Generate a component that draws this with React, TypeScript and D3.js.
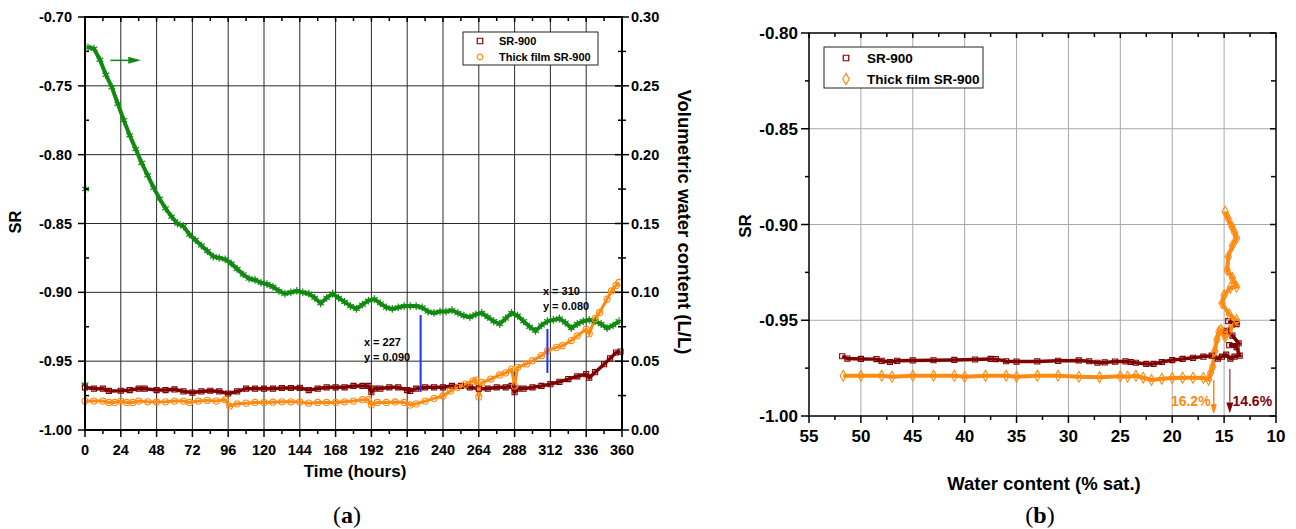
import React from 'react';
import * as d3 from 'd3';

const W = 1296;
const H = 529;
const SANS = '"Liberation Sans", Arial, Helvetica, sans-serif';
const SERIF = '"Liberation Serif", "Times New Roman", serif';

const MAROON = '#7f0000';
const ORANGE = '#ff8a12';
const GREEN = '#128a12';
const BLUE = '#2233ee';

// ---- panel (a): SR and water content vs time ----
const timeTicks = [0, 24, 48, 72, 96, 120, 144, 168, 192, 216, 240, 264, 288, 312, 336, 360];
const srTicksA = [-1.0, -0.95, -0.9, -0.85, -0.8, -0.75, -0.7];
const vwcTicks = [0, 0.05, 0.1, 0.15, 0.2, 0.25, 0.3];

const vwcTime = [2, 6, 10, 14, 18, 22, 26, 30, 34, 38, 42, 46, 50, 54, 58, 62, 66, 70, 74, 78, 82, 86, 90, 94, 98,
  102, 106, 110, 114, 118, 122, 126, 130, 134, 138, 142, 146, 150, 154, 158, 162, 166, 170, 174, 178, 182, 186, 190,
  194, 198, 202, 206, 210, 214, 218, 222, 226, 230, 234, 238, 242, 246, 250, 254, 258, 262, 266, 270, 274, 278, 282,
  286, 290, 294, 298, 302, 306, 310, 314, 318, 322, 326, 330, 334, 338, 342, 346, 350, 354, 358];
const vwcValue = [0.278, 0.277, 0.269, 0.258, 0.249, 0.237, 0.225, 0.214, 0.204, 0.194, 0.185, 0.176, 0.168, 0.161,
  0.155, 0.150, 0.148, 0.142, 0.138, 0.134, 0.130, 0.126, 0.125, 0.124, 0.121, 0.117, 0.113, 0.110, 0.109, 0.107,
  0.106, 0.104, 0.101, 0.099, 0.100, 0.101, 0.100, 0.099, 0.096, 0.092, 0.096, 0.099, 0.096, 0.093, 0.090, 0.088,
  0.091, 0.094, 0.095, 0.092, 0.089, 0.088, 0.089, 0.090, 0.090, 0.090, 0.089, 0.086, 0.085, 0.086, 0.086, 0.087,
  0.085, 0.083, 0.082, 0.084, 0.085, 0.082, 0.079, 0.077, 0.081, 0.085, 0.083, 0.079, 0.075, 0.072, 0.076, 0.079,
  0.080, 0.081, 0.078, 0.074, 0.077, 0.079, 0.080, 0.079, 0.077, 0.074, 0.076, 0.079];
const vwcStrayTime = [0.5, 0];
const vwcStrayValue = [0.175, 0.033];

const sr900Time = [0, 6, 12, 16, 24, 30, 36, 40, 48, 54, 60, 66, 72, 78, 84, 90, 96, 102, 108, 114, 120, 126, 132,
  138, 144, 150, 156, 162, 168, 174, 180, 186, 190, 192, 194, 198, 204, 210, 216, 218, 222, 228, 234, 240, 246, 252,
  258, 264, 270, 276, 282, 286, 288, 290, 294, 300, 306, 312, 318, 324, 330, 336, 338, 342, 348, 352, 356, 359];
const sr900A = [-0.969, -0.970, -0.970, -0.9716, -0.9715, -0.971, -0.970, -0.970, -0.971, -0.971, -0.9705, -0.972,
  -0.9728, -0.972, -0.9715, -0.972, -0.9735, -0.972, -0.970, -0.970, -0.970, -0.970, -0.9695, -0.9695, -0.9694,
  -0.971, -0.970, -0.969, -0.969, -0.969, -0.968, -0.968, -0.968, -0.9725, -0.970, -0.970, -0.969, -0.969, -0.971,
  -0.9716, -0.970, -0.969, -0.969, -0.969, -0.968, -0.968, -0.969, -0.970, -0.970, -0.969, -0.969, -0.968, -0.9725,
  -0.970, -0.970, -0.969, -0.968, -0.9667, -0.965, -0.963, -0.961, -0.9594, -0.962, -0.958, -0.9522, -0.948,
  -0.9437, -0.943];

const thickTime = [0, 6, 12, 16, 20, 24, 28, 32, 36, 42, 48, 54, 60, 66, 70, 76, 82, 88, 94, 97, 102, 108, 114, 120,
  126, 132, 138, 144, 150, 156, 162, 168, 174, 180, 186, 190, 192, 196, 202, 208, 214, 218, 222, 228, 234, 240, 245,
  250, 255, 260, 262, 264, 266, 272, 278, 282, 286, 288, 290, 296, 300, 306, 310, 316, 320, 326, 330, 336, 338, 342,
  345, 350, 353, 356, 358];
const thickA = [-0.979, -0.979, -0.979, -0.980, -0.980, -0.979, -0.980, -0.980, -0.979, -0.9795, -0.9796, -0.9795,
  -0.979, -0.979, -0.980, -0.979, -0.9785, -0.979, -0.978, -0.9826, -0.981, -0.9805, -0.980, -0.980, -0.9798,
  -0.9795, -0.9795, -0.9796, -0.9805, -0.980, -0.980, -0.980, -0.9795, -0.979, -0.978, -0.978, -0.9818, -0.980,
  -0.980, -0.9796, -0.980, -0.9818, -0.981, -0.979, -0.977, -0.9753, -0.9716, -0.969, -0.9667, -0.9645, -0.9638,
  -0.976, -0.9655, -0.963, -0.960, -0.9585, -0.9558, -0.968, -0.9545, -0.952, -0.9497, -0.946, -0.9425, -0.940,
  -0.9388, -0.935, -0.9316, -0.9267, -0.930, -0.919, -0.9146, -0.9049, -0.899, -0.895, -0.8928];

// ---- panel (b): SR vs water content ----
const wcTicks = [55, 50, 45, 40, 35, 30, 25, 20, 15, 10];
const srTicksB = [-1.0, -0.95, -0.9, -0.85, -0.8];

const wc900 = [51.8, 51.3, 50, 48.5, 48, 47.2, 46.5, 45, 43, 41, 39, 37.5, 37, 36, 35, 33, 31, 29, 28, 27.2, 26.5,
  25.5, 24.5, 24, 23.5, 22.5, 21.8, 21, 20, 19, 18, 17, 16.2, 15.6, 15.2, 14.8, 14.4, 14, 13.5, 13.8, 14.5, 13.6,
  14.2, 14.8, 13.8, 14.6];
const sr900B = [-0.9688, -0.970, -0.9702, -0.9703, -0.9712, -0.9718, -0.9712, -0.971, -0.9709, -0.9707, -0.9705,
  -0.9702, -0.9703, -0.9714, -0.9716, -0.9715, -0.9712, -0.971, -0.9714, -0.9722, -0.972, -0.9716, -0.9715, -0.9718,
  -0.9722, -0.9728, -0.9728, -0.9718, -0.9708, -0.9702, -0.9696, -0.969, -0.9685, -0.970, -0.969, -0.968, -0.970,
  -0.969, -0.9685, -0.964, -0.963, -0.962, -0.958, -0.9555, -0.952, -0.9505];

const wcThick = [51.7, 50, 48, 47, 45, 43, 41, 40, 38, 36, 35, 33, 31, 29, 27, 25, 24.3, 23.5, 22.8, 22, 21, 20, 19,
  18, 17, 16.5, 16.3, 16.1, 15.9, 15.7, 15.5, 15.3, 14.9, 14.5, 13.8, 14.5, 15.2, 15.0, 14.4, 13.8, 14.2, 14.7, 14.6,
  14.2, 13.8, 14.0, 14.25, 14.6, 14.9];
const srThickB = [-0.979, -0.979, -0.979, -0.9795, -0.979, -0.979, -0.979, -0.9795, -0.979, -0.979, -0.9795,
  -0.979, -0.979, -0.9795, -0.9797, -0.9792, -0.9795, -0.979, -0.980, -0.9812, -0.9805, -0.9802, -0.980, -0.980,
  -0.9802, -0.981, -0.9775, -0.9743, -0.966, -0.960, -0.956, -0.955, -0.9586, -0.9555, -0.950, -0.947, -0.9411,
  -0.937, -0.933, -0.9325, -0.928, -0.9237, -0.9168, -0.911, -0.9072, -0.904, -0.9011, -0.897, -0.8933];

const fmt2 = (v: number) => v.toFixed(2);

const App = () => {
  // scales
  const xA = d3.scaleLinear().domain([0, 360]).range([85, 622]);
  const yA = d3.scaleLinear().domain([-1, -0.7]).range([430, 17]);
  const yA2 = d3.scaleLinear().domain([0, 0.3]).range([430, 17]);
  const xB = d3.scaleLinear().domain([55, 10]).range([809, 1276]);
  const yB = d3.scaleLinear().domain([-1, -0.8]).range([416, 33]);

  const lineOf = (xs: number[], ys: number[], sx: any, sy: any) =>
    d3.line<number>().x((_, i) => sx(xs[i])).y((d) => sy(d))(ys) || '';

  const sq = d3.symbol().type(d3.symbolSquare).size(26)() || '';
  const circ = d3.symbol().type(d3.symbolCircle).size(30)() || '';
  const star = d3.symbol().type(d3.symbolAsterisk).size(42)() || '';
  const diam = d3.symbol().type(d3.symbolDiamond).size(34)() || '';
  const sqLeg = d3.symbol().type(d3.symbolSquare).size(30)() || '';
  const circLeg = d3.symbol().type(d3.symbolCircle).size(26)() || '';
  const diamLeg = d3.symbol().type(d3.symbolDiamond).size(36)() || '';

  const minorTime = d3.range(12, 360, 24);
  const minorSrA = d3.range(-0.975, -0.7, 0.05);
  const minorVwc = d3.range(0.025, 0.3, 0.05);
  const minorWc = d3.range(52.5, 10, -5);
  const minorSrB = d3.range(-0.975, -0.8, 0.05);

  const tickStyle = { stroke: '#000', strokeWidth: 1.5 };

  return (
    <svg width={W} height={H} style={{ position: 'absolute', left: 0, top: 0, background: '#fff' }}
      fontFamily={SANS} fontWeight="bold">
      {/* ===== panel (a) ===== */}
      <g>
        {timeTicks.slice(1, -1).map((t) => (
          <line key={'gx' + t} x1={xA(t)} x2={xA(t)} y1={17} y2={430} stroke="#2a2a2a" strokeWidth={1} />
        ))}
        {srTicksA.slice(1, -1).map((v) => (
          <line key={'gy' + v} x1={85} x2={622} y1={yA(v)} y2={yA(v)} stroke="#2a2a2a" strokeWidth={1} />
        ))}

        {/* series lines */}
        <path d={lineOf(vwcTime, vwcValue, xA, yA2)} fill="none" stroke={GREEN} strokeWidth={4} />
        <path d={lineOf(sr900Time, sr900A, xA, yA)} fill="none" stroke={MAROON} strokeWidth={3.5} />
        <path d={lineOf(thickTime, thickA, xA, yA)} fill="none" stroke={ORANGE} strokeWidth={3} />
        {vwcValue.map((v, i) => (
          <path key={'gm' + i} d={star} transform={`translate(${xA(vwcTime[i])},${yA2(v)})`} fill="none" stroke={GREEN} strokeWidth={1.2} />
        ))}
        {vwcStrayValue.map((v, i) => (
          <path key={'gs' + i} d={star} transform={`translate(${xA(vwcStrayTime[i])},${yA2(v)})`} fill="none" stroke={GREEN} strokeWidth={1.2} />
        ))}
        {sr900A.map((v, i) => (
          <path key={'rm' + i} d={sq} transform={`translate(${xA(sr900Time[i])},${yA(v)})`} fill="none" stroke={MAROON} strokeWidth={1.1} />
        ))}
        {thickA.map((v, i) => (
          <path key={'om' + i} d={circ} transform={`translate(${xA(thickTime[i])},${yA(v)})`} fill="none" stroke={ORANGE} strokeWidth={1.1} />
        ))}

        {/* cursor annotations */}
        <line x1={xA(225)} x2={xA(225)} y1={yA(-0.9165)} y2={yA(-0.9724)} stroke={BLUE} strokeWidth={2} />
        <line x1={xA(310)} x2={xA(310)} y1={yA(-0.9266)} y2={yA(-0.9586)} stroke={BLUE} strokeWidth={2} />
        <text x={xA(187)} y={yA(-0.9393)} fontSize={11}>x = 227</text>
        <text x={xA(187)} y={yA(-0.9500)} fontSize={11}>y = 0.090</text>
        <text x={xA(307)} y={yA(-0.9018)} fontSize={11}>x = 310</text>
        <text x={xA(307)} y={yA(-0.9127)} fontSize={11}>y = 0.080</text>

        {/* arrow pointing to right axis */}
        <line x1={xA(17)} x2={xA(30)} y1={yA2(0.2685)} y2={yA2(0.2685)} stroke={GREEN} strokeWidth={1.5} />
        <path d={`M${xA(29)},${yA2(0.2685) - 3.5}L${xA(37.5)},${yA2(0.2685)}L${xA(29)},${yA2(0.2685) + 3.5}Z`} fill={GREEN} />

        {/* frame */}
        <rect x={85} y={17} width={537} height={413} fill="none" stroke="#000" strokeWidth={2} />

        {/* bottom & top ticks */}
        {timeTicks.map((t) => (
          <g key={'tx' + t}>
            <line x1={xA(t)} x2={xA(t)} y1={430} y2={437} {...tickStyle} />
            <line x1={xA(t)} x2={xA(t)} y1={17} y2={22} {...tickStyle} />
            <text x={xA(t)} y={455} fontSize={14.5} textAnchor="middle">{t}</text>
          </g>
        ))}
        {minorTime.map((t) => (
          <g key={'mx' + t}>
            <line x1={xA(t)} x2={xA(t)} y1={430} y2={434} {...tickStyle} />
            <line x1={xA(t)} x2={xA(t)} y1={17} y2={21} {...tickStyle} />
          </g>
        ))}
        {srTicksA.map((v) => (
          <g key={'ty' + v}>
            <line x1={78} x2={85} y1={yA(v)} y2={yA(v)} {...tickStyle} />
            <text x={72} y={yA(v) + 5} fontSize={14.5} textAnchor="end">{fmt2(v)}</text>
          </g>
        ))}
        {minorSrA.map((v) => (
          <line key={'my' + v} x1={85} x2={89} y1={yA(v)} y2={yA(v)} {...tickStyle} />
        ))}
        {vwcTicks.map((v) => (
          <g key={'tr' + v}>
            <line x1={615} x2={629} y1={yA2(v)} y2={yA2(v)} {...tickStyle} />
            <text x={631} y={yA2(v) + 5} fontSize={14.5}>{fmt2(v)}</text>
          </g>
        ))}
        {minorVwc.map((v) => (
          <line key={'mr' + v} x1={618} x2={626} y1={yA2(v)} y2={yA2(v)} {...tickStyle} />
        ))}

        {/* axis titles */}
        <text transform="translate(21,222) rotate(-90)" fontSize={16.5} textAnchor="middle">SR</text>
        <text transform="translate(678,222) rotate(90)" fontSize={18.5} textAnchor="middle">Volumetric water content (L/L)</text>
        <text x={355} y={477} fontSize={17} textAnchor="middle">Time (hours)</text>
        <text x={347} y={523} fontSize={24} fontFamily={SERIF} fontWeight="normal" textAnchor="middle">
          (<tspan fontWeight="bold">a</tspan>)
        </text>

        {/* legend */}
        <rect x={463} y={32} width={135} height={33} fill="#fff" stroke="#222" strokeWidth={1} />
        <path d={sqLeg} transform="translate(480,41)" fill="none" stroke={MAROON} strokeWidth={1.2} />
        <path d={circLeg} transform="translate(480,57)" fill="none" stroke={ORANGE} strokeWidth={1.2} />
        <text x={499} y={45} fontSize={11}>SR-900</text>
        <text x={499} y={61} fontSize={11}>Thick film SR-900</text>
      </g>

      {/* ===== panel (b) ===== */}
      <g>
        {wcTicks.slice(1, -1).map((t) => (
          <line key={'bgx' + t} x1={xB(t)} x2={xB(t)} y1={33} y2={416} stroke="#a8a8a8" strokeWidth={1} />
        ))}
        {srTicksB.slice(1, -1).map((v) => (
          <line key={'bgy' + v} x1={809} x2={1276} y1={yB(v)} y2={yB(v)} stroke="#a8a8a8" strokeWidth={1} />
        ))}

        <path d={lineOf(wc900, sr900B, xB, yB)} fill="none" stroke={MAROON} strokeWidth={3.5} />
        <path d={lineOf(wcThick, srThickB, xB, yB)} fill="none" stroke={ORANGE} strokeWidth={4} />
        {sr900B.map((v, i) => (
          <path key={'brm' + i} d={sq} transform={`translate(${xB(wc900[i])},${yB(v)})`} fill="none" stroke={MAROON} strokeWidth={1.1} />
        ))}
        {srThickB.map((v, i) => (
          <path key={'bom' + i} d={diam} transform={`translate(${xB(wcThick[i])},${yB(v)})`} fill="none" stroke={ORANGE} strokeWidth={1.1} />
        ))}

        {/* threshold arrows */}
        <line x1={xB(16.0)} x2={xB(16.0)} y1={yB(-0.9812)} y2={yB(-0.994)} stroke={ORANGE} strokeWidth={1.5} />
        <path d={`M${xB(16.0) - 2.5},${yB(-0.994)}L${xB(16.0)},${yB(-0.9985)}L${xB(16.0) + 2.5},${yB(-0.994)}Z`} fill={ORANGE} stroke={ORANGE} strokeWidth={1} />
        <line x1={xB(14.45)} x2={xB(14.45)} y1={yB(-0.9755)} y2={yB(-0.993)} stroke="#a85a5a" strokeWidth={1.5} />
        <path d={`M${xB(14.45) - 3.5},${yB(-0.993)}L${xB(14.45)},${yB(-0.9985)}L${xB(14.45) + 3.5},${yB(-0.993)}Z`} fill={MAROON} />
        <text x={xB(16.3)} y={yB(-0.9948)} fontSize={14} textAnchor="end" fill={ORANGE}>16.2%</text>
        <text x={xB(14.2)} y={yB(-0.9948)} fontSize={14} fill={MAROON}>14.6%</text>

        <rect x={809} y={33} width={467} height={383} fill="none" stroke="#000" strokeWidth={1.5} />

        {wcTicks.map((t) => (
          <g key={'btx' + t}>
            <line x1={xB(t)} x2={xB(t)} y1={416} y2={423} {...tickStyle} />
            <line x1={xB(t)} x2={xB(t)} y1={33} y2={38} {...tickStyle} />
            <text x={xB(t)} y={442} fontSize={17} textAnchor="middle">{t}</text>
          </g>
        ))}
        {minorWc.map((t) => (
          <g key={'bmx' + t}>
            <line x1={xB(t)} x2={xB(t)} y1={416} y2={420} {...tickStyle} />
            <line x1={xB(t)} x2={xB(t)} y1={33} y2={37} {...tickStyle} />
          </g>
        ))}
        {srTicksB.map((v) => (
          <g key={'bty' + v}>
            <line x1={801} x2={809} y1={yB(v)} y2={yB(v)} {...tickStyle} />
            <line x1={1270} x2={1276} y1={yB(v)} y2={yB(v)} {...tickStyle} />
            <text x={798} y={yB(v) + 6} fontSize={17} textAnchor="end">{fmt2(v)}</text>
          </g>
        ))}
        {minorSrB.map((v) => (
          <g key={'bmy' + v}>
            <line x1={805} x2={809} y1={yB(v)} y2={yB(v)} {...tickStyle} />
            <line x1={1271} x2={1276} y1={yB(v)} y2={yB(v)} {...tickStyle} />
          </g>
        ))}

        <text transform="translate(751,226) rotate(-90)" fontSize={17} textAnchor="middle">SR</text>
        <text x={1044} y={490} fontSize={18.5} textAnchor="middle">Water content (% sat.)</text>
        <text x={1040} y={523} fontSize={24} fontFamily={SERIF} fontWeight="normal" textAnchor="middle">
          (<tspan fontWeight="bold">b</tspan>)
        </text>

        <rect x={824} y={47} width={159} height={41} fill="#fff" stroke="#222" strokeWidth={1} />
        <path d={sqLeg} transform="translate(846,58)" fill="none" stroke={MAROON} strokeWidth={1.2} />
        <path d={diamLeg} transform="translate(846,79)" fill="none" stroke={ORANGE} strokeWidth={1.2} />
        <text x={867} y={63} fontSize={13.5}>SR-900</text>
        <text x={867} y={84} fontSize={13.5}>Thick film SR-900</text>
      </g>
    </svg>
  );
};

export default App;
